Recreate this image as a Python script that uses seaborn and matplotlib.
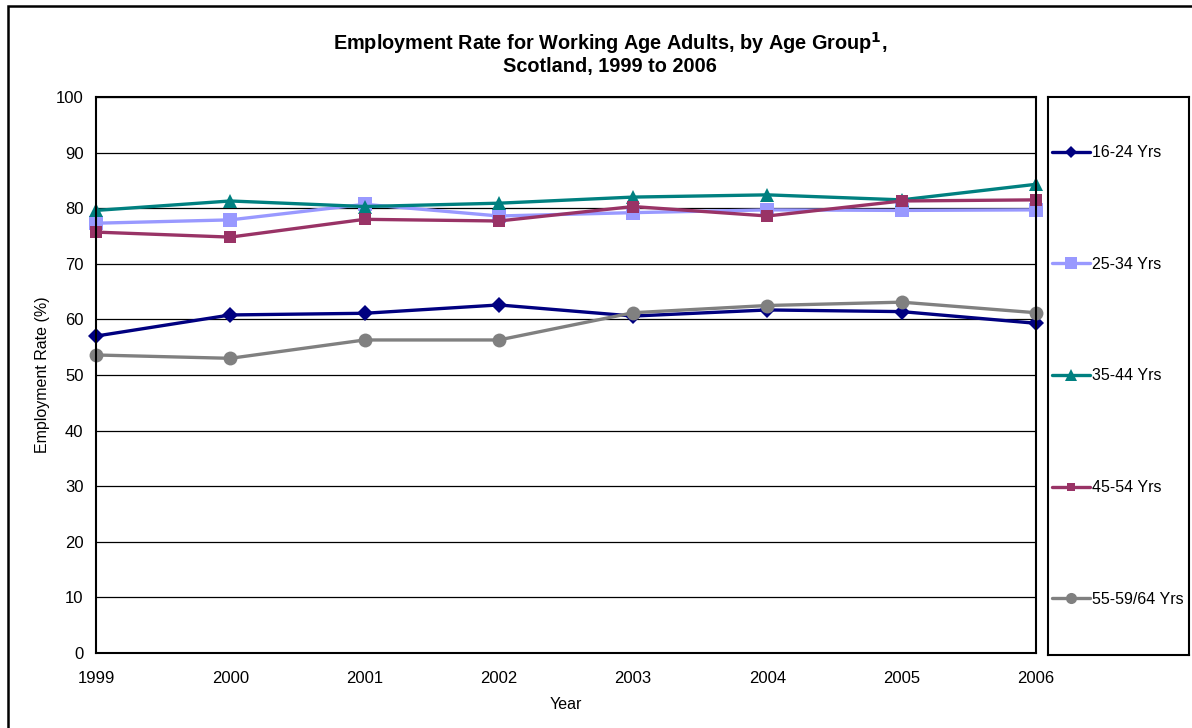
import pandas as pd
import matplotlib.pyplot as plt
import matplotlib.patches as mpatches
import seaborn as sns

# --- Data ---
years = [1999, 2000, 2001, 2002, 2003, 2004, 2005, 2006]
age_groups = ['16-24 Yrs', '25-34 Yrs', '35-44 Yrs', '45-54 Yrs', '55-59/64 Yrs']
rate_16_24 = [57.0, 60.8, 61.1, 62.6, 60.6, 61.7, 61.4, 59.3]
rate_25_34 = [77.3, 77.9, 80.7, 78.6, 79.2, 79.7, 79.6, 79.7]
rate_35_44 = [79.6, 81.3, 80.3, 80.9, 82.0, 82.4, 81.5, 84.3]
rate_45_54 = [75.7, 74.8, 78.0, 77.7, 80.3, 78.6, 81.3, 81.5]
rate_55_64 = [53.6, 53.0, 56.3, 56.3, 61.2, 62.5, 63.1, 61.2]

series = [rate_16_24, rate_25_34, rate_35_44, rate_45_54, rate_55_64]
df = pd.DataFrame({
    'Year': years * len(age_groups),
    'Rate': [v for s in series for v in s],
    'Group': [g for g in age_groups for _ in years],
})

colors = {'16-24 Yrs': '#000080', '25-34 Yrs': '#9999FF', '35-44 Yrs': '#008080',
          '45-54 Yrs': '#993366', '55-59/64 Yrs': '#808080'}
markers = {'16-24 Yrs': 'D', '25-34 Yrs': 's', '35-44 Yrs': '^',
           '45-54 Yrs': 's', '55-59/64 Yrs': 'o'}
msizes = {'16-24 Yrs': 8, '25-34 Yrs': 10, '35-44 Yrs': 10,
          '45-54 Yrs': 8, '55-59/64 Yrs': 10}

# --- Plotting ---
sns.set_theme(style="white")
plt.rcParams['font.family'] = ['Liberation Sans', 'DejaVu Sans']
plt.rcParams['text.color'] = 'black'
plt.rcParams['axes.labelcolor'] = 'black'

fig = plt.figure(figsize=(11.92, 7.28), dpi=100)
ax = fig.add_axes([96 / 1192, 75 / 728, 940 / 1192, 556 / 728])

sns.lineplot(data=df, x='Year', y='Rate', hue='Group', style='Group',
             hue_order=age_groups, style_order=age_groups,
             palette=colors, markers=markers, dashes=False,
             linewidth=2.4, markeredgewidth=0, ax=ax)

handles, labels = ax.get_legend_handles_labels()
ax.get_legend().remove()
for line, g in zip(ax.lines, age_groups):
    line.set_clip_on(False)
    line.set_markersize(msizes[g])
for h, g in zip(handles, labels):
    h.set_markersize(msizes.get(g, 8) * 0.8)
    h.set_linewidth(2.4)

ax.set_xlim(1999, 2006)
ax.set_ylim(0, 100)
ax.set_xticks(years)
ax.set_yticks(range(0, 101, 10))
ax.grid(axis='y', color='black', linewidth=0.9)
ax.set_axisbelow(True)
for s in ax.spines.values():
    s.set_color('black')
    s.set_linewidth(1.5)
ax.tick_params(axis='both', direction='out', length=4, width=1, color='black',
               labelsize=12, labelcolor='black')
ax.tick_params(axis='y', pad=5)
ax.tick_params(axis='x', pad=9)
ax.set_xlabel('Year', fontsize=11.5, labelpad=8)
ax.set_ylabel('Employment Rate (%)', fontsize=11.5, labelpad=4)

# Legend box on the right
lax = fig.add_axes([1048 / 1192, 73 / 728, 141 / 1192, 558 / 728])
lax.set_xticks([])
lax.set_yticks([])
for s in lax.spines.values():
    s.set_color('black')
    s.set_linewidth(1.5)
lax.legend(handles, labels, loc='center left', frameon=False, fontsize=11.5,
           labelspacing=6.05, handlelength=2.4, handletextpad=0.1,
           borderaxespad=0.0, borderpad=0.25)

# Title
fig.text(610 / 1192, 1 - 53 / 728,
         'Employment Rate for Working Age Adults, by Age Group$^{\\mathbf{1}}$,\nScotland, 1999 to 2006',
         ha='center', va='center', fontsize=14.3, fontweight='bold', linespacing=1.1)

# Outer chart-area border
fig.patches.append(mpatches.Rectangle((8 / 1192, -0.05), 1.1, 1.05 - 6 / 728,
                                      transform=fig.transFigure, fill=False,
                                      edgecolor='black', linewidth=1.8))

fig.savefig('out.png', dpi=100)
